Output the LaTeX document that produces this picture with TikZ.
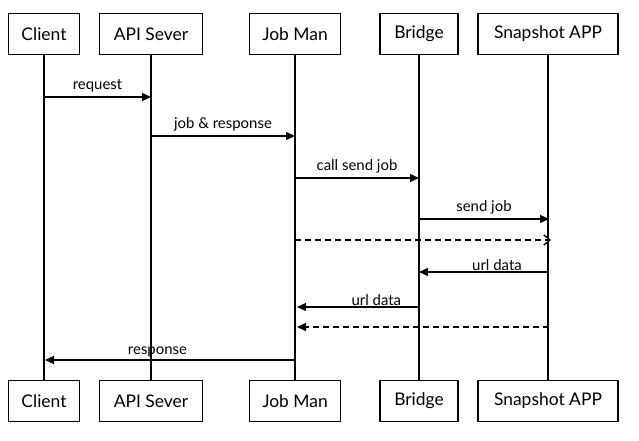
\documentclass[tikz,border=0pt]{standalone}
\usepackage{fontspec}
\setmainfont{Lato}
\usetikzlibrary{arrows.meta}
\begin{document}
\begin{tikzpicture}[x=1bp,y=-1bp,
  actor/.style={draw=black,line width=1.4bp,fill=white,minimum height=41bp,inner sep=0pt,font=\fontsize{17.5}{19}\selectfont},
  life/.style={draw=black,line width=1.4bp},
  msg/.style={draw=black,line width=1.4bp,-{Triangle[length=9bp,width=8bp]}},
  reply/.style={draw=black,line width=1.4bp,dashed,dash pattern=on 6bp off 4bp},
  lbl/.style={font=\fontsize{15}{16}\selectfont,inner sep=4bp,anchor=south}]
\useasboundingbox (0,0) rectangle (639,441);
% top actors
\node[actor,minimum width=71bp] (ct) at (44,34) {Client};
\node[actor,minimum width=103bp] (at) at (151,34) {API Sever};
\node[actor,minimum width=91bp] (jt) at (295,34) {Job Man};
\node[actor,minimum width=78bp] (bt) at (419,34) {Bridge};
\node[actor,minimum width=140bp] (st) at (548,34) {Snapshot APP};
% bottom actors
\node[actor,minimum width=71bp] (cb) at (44,401) {Client};
\node[actor,minimum width=103bp] (ab) at (151,401) {API Sever};
\node[actor,minimum width=91bp] (jb) at (295,401) {Job Man};
\node[actor,minimum width=78bp] (bb) at (419,401) {Bridge};
\node[actor,minimum width=140bp] (sb) at (548,401) {Snapshot APP};
% lifelines
\draw[life] (ct) -- (cb);
\draw[life] (at) -- (ab);
\draw[life] (jt) -- (jb);
\draw[life] (bt) -- (bb);
\draw[life] (st) -- (sb);
% message points
\coordinate (c1) at (44,97);  \coordinate (a1) at (151,97);
\coordinate (a2) at (151,136); \coordinate (j2) at (295,136);
\coordinate (j3) at (295,178); \coordinate (b3) at (419,178);
\coordinate (b4) at (419,219); \coordinate (s4) at (549,219);
\coordinate (j5) at (295,240); \coordinate (s5) at (551,240);
\coordinate (s6) at (549,272); \coordinate (b6) at (419,272);
\coordinate (b7) at (419,307); \coordinate (j7) at (297,307);
\coordinate (s8) at (549,327); \coordinate (j8) at (297,327);
\coordinate (j9) at (295,360); \coordinate (c9) at (45,360);
\draw[msg] (c1) -- node[lbl,pos=0.5] (l1) {request} (a1);
\draw[msg] (a2) -- node[lbl,pos=0.5] (l2) {job \& response} (j2);
\draw[msg] (j3) -- node[lbl,pos=0.5] (l3) {call send job} (b3);
\draw[msg] (b4) -- node[lbl,pos=0.5] (l4) {send job} (s4);
\draw[reply,-{Straight Barb[length=6bp,width=10bp]}] (j5) -- (s5);
\draw[msg] (s6) -- node[lbl,pos=0.4,inner sep=0.5bp] (l6) {url data} (b6);
\draw[msg] (b7) -- node[lbl,pos=0.35,inner sep=0.5bp] (l7) {url data} (j7);
\draw[reply,-{Triangle[length=9bp,width=8bp]}] (s8) -- (j8);
\draw[msg] (j9) -- node[lbl,pos=0.55,inner sep=2bp] (l9) {response} (c9);
\end{tikzpicture}
\end{document}
